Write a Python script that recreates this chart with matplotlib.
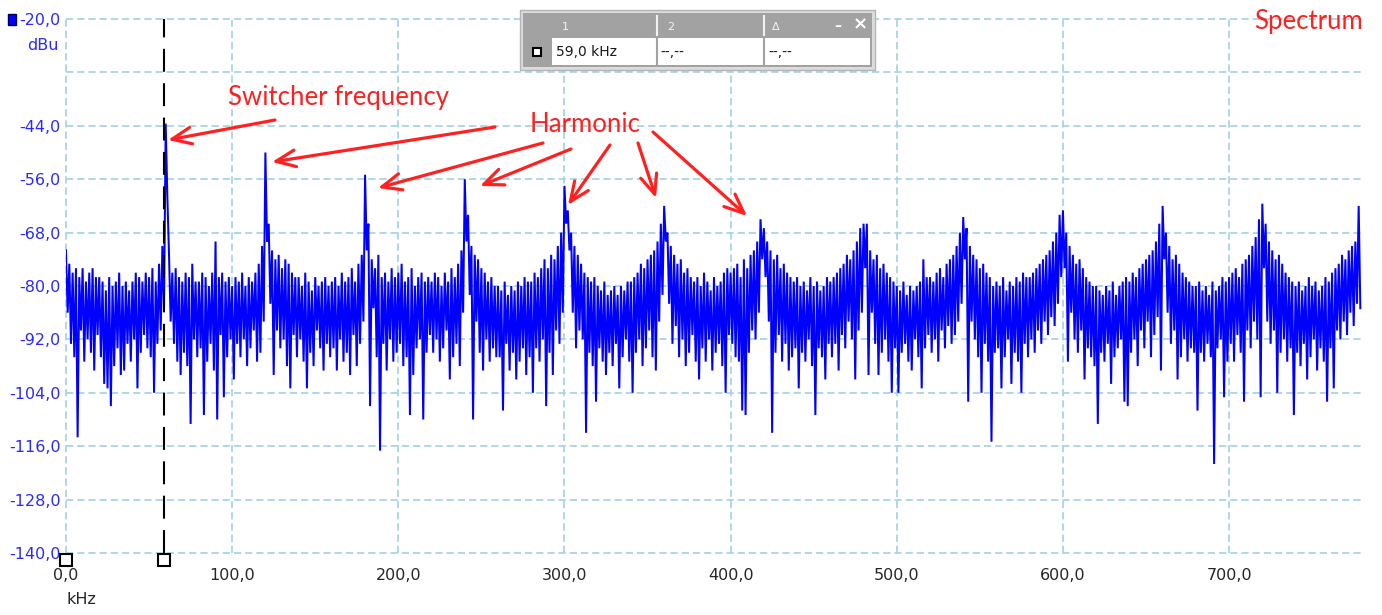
import numpy as np
import matplotlib
matplotlib.use("Agg")
import matplotlib.pyplot as plt
from matplotlib.patches import Rectangle, FancyArrowPatch
from matplotlib.lines import Line2D
from matplotlib import transforms

# ---------------- data ----------------
# spectrum displayed as per-2-kHz-bin maxima (at even kHz) and minima (at odd kHz), dBu
bin_start_khz = np.arange(0, 780, 2)
bin_max_dbu = [
    -72, -75, -77, -76, -78, -76, -79, -77, -76, -78,      # 0-18
    -78, -79, -81, -78, -80, -79, -77, -80, -79, -81,      # 20-38
    -79, -77, -78, -79, -77, -78, -76, -79, -75, -71,      # 40-58
    -43.5, -73, -77, -76, -78, -79, -77, -78, -75, -79,    # 60-78
    -79, -77, -78, -80, -77, -70, -78, -77, -79, -78,      # 80-98
    -80, -78, -79, -77, -80, -78, -79, -77, -75, -71,      # 100-118
    -50, -66, -72, -74, -73, -76, -74, -75, -77, -78,      # 120-138
    -78, -80, -77, -79, -81, -78, -80, -79, -78, -80,      # 140-158
    -79, -78, -80, -77, -79, -78, -76, -79, -75, -73,      # 160-178
    -55, -66, -74, -76, -73, -78, -77, -79, -76, -78,      # 180-198
    -77, -75, -79, -78, -76, -80, -78, -77, -79, -78,      # 200-218
    -79, -77, -78, -80, -77, -79, -76, -78, -75, -72,      # 220-238
    -56, -64, -71, -73, -74, -76, -77, -79, -78, -80,      # 240-258
    -80, -81, -79, -82, -80, -81, -79, -80, -78, -79,      # 260-278
    -79, -77, -78, -76, -74, -76, -73, -74, -71, -68,      # 280-298
    -57.5, -63, -68, -71, -73, -75, -77, -78, -79, -78,    # 300-318
    -80, -81, -79, -82, -81, -80, -82, -80, -81, -79,      # 320-338
    -79, -78, -77, -75, -76, -74, -73, -72, -70, -66,      # 340-358
    -62, -68, -71, -73, -75, -74, -77, -76, -78, -79,      # 360-378
    -78, -80, -77, -79, -81, -78, -80, -79, -77, -76,      # 380-398
    -77, -76, -75, -78, -74, -76, -73, -72, -70, -65,      # 400-418
    -67, -70, -72, -74, -73, -76, -75, -77, -78, -79,      # 420-438
    -78, -80, -79, -81, -78, -80, -79, -81, -80, -78,      # 440-458
    -79, -78, -77, -76, -75, -73, -74, -72, -70, -67,      # 460-478
    -66, -66, -72, -74, -73, -76, -75, -77, -78, -79,      # 480-498
    -80, -81, -79, -82, -80, -81, -80, -79, -74, -78,      # 500-518
    -78, -79, -77, -76, -78, -75, -74, -73, -71, -68,      # 520-538
    -64.5, -67, -71, -73, -74, -76, -75, -77, -78, -80,    # 540-558
    -79, -80, -78, -81, -79, -80, -78, -79, -77, -78,      # 560-578
    -78, -77, -76, -75, -74, -73, -72, -70, -68, -64,      # 580-598
    -63, -68, -71, -73, -75, -74, -76, -78, -79, -80,      # 600-618
    -80, -81, -82, -80, -81, -79, -82, -80, -79, -78,      # 620-638
    -79, -77, -78, -76, -75, -74, -73, -72, -70, -66,      # 640-658
    -62, -68, -71, -74, -73, -75, -77, -78, -79, -80,      # 660-678
    -80, -79, -81, -80, -82, -79, -81, -80, -78, -79,      # 680-698
    -78, -77, -76, -78, -75, -74, -73, -71, -69, -65,      # 700-718
    -61.5, -66, -70, -72, -74, -73, -75, -77, -78, -79,    # 720-738
    -80, -79, -81, -80, -78, -80, -79, -81, -80, -78,      # 740-758
    -79, -77, -76, -75, -73, -74, -72, -71, -70, -62,      # 760-778
]
bin_min_dbu = [
    -86, -93, -96, -114, -90, -97, -92, -95, -99, -91,      # 1-19
    -96, -102, -103, -107, -98, -94, -100, -99, -93, -97,   # 21-39
    -92, -103, -95, -91, -94, -96, -104, -93, -90, -85,     # 41-59
    -60, -88, -93, -97, -100, -95, -98, -111, -92, -96,     # 61-79
    -94, -109, -97, -93, -99, -110, -91, -105, -96, -92,    # 81-99
    -101, -93, -96, -92, -98, -94, -90, -97, -95, -88,      # 101-119
    -70, -84, -100, -90, -94, -92, -98, -103, -91, -96,     # 121-139
    -92, -97, -103, -95, -98, -90, -94, -99, -93, -96,      # 141-159
    -94, -99, -92, -97, -95, -100, -91, -98, -93, -88,      # 161-179
    -72, -107, -85, -96, -117, -93, -99, -92, -97, -95,     # 181-199
    -93, -98, -96, -109, -100, -94, -92, -110, -95, -91,    # 201-219
    -95, -92, -97, -94, -90, -101, -96, -93, -98, -86,      # 221-239
    -70, -82, -110, -88, -95, -99, -92, -97, -94, -96,      # 241-259
    -96, -108, -93, -99, -95, -101, -97, -94, -100, -96,    # 261-279
    -104, -94, -97, -92, -107, -95, -100, -90, -93, -86,    # 281-299
    -66, -72, -86, -94, -90, -92, -113, -95, -98, -106,     # 301-319
    -94, -97, -100, -95, -98, -93, -103, -96, -92, -97,     # 321-339
    -104, -95, -92, -98, -94, -90, -96, -99, -88, -82,      # 341-359
    -70, -84, -93, -89, -96, -92, -98, -95, -91, -97,       # 361-379
    -101, -94, -97, -92, -99, -95, -93, -98, -104, -91,     # 381-399
    -93, -96, -97, -108, -109, -95, -90, -92, -86, -74,     # 401-419
    -78, -88, -113, -95, -91, -97, -93, -99, -96, -94,      # 421-439
    -103, -95, -97, -92, -98, -109, -94, -96, -101, -93,    # 441-459
    -96, -93, -99, -91, -94, -88, -92, -101, -90, -86,      # 461-479
    -76, -100, -86, -93, -100, -95, -92, -97, -104, -94,    # 481-499
    -104, -95, -93, -97, -99, -92, -96, -103, -94, -91,     # 501-519
    -95, -92, -97, -90, -94, -89, -93, -91, -88, -84,       # 521-539
    -74, -106, -88, -92, -96, -104, -93, -97, -115, -95,    # 541-559
    -94, -103, -96, -92, -102, -95, -97, -104, -93, -96,    # 561-579
    -92, -95, -90, -93, -88, -91, -87, -89, -84, -78,       # 581-599
    -76, -97, -86, -92, -95, -90, -101, -94, -96, -98,      # 601-619
    -111, -95, -97, -93, -102, -96, -94, -92, -106, -107,   # 621-639
    -95, -92, -98, -90, -94, -88, -96, -91, -87, -99,       # 641-659
    -74, -86, -93, -90, -101, -96, -92, -97, -94, -95,      # 661-679
    -108, -95, -97, -93, -96, -120, -94, -92, -105, -97,    # 681-699
    -93, -97, -91, -95, -106, -90, -94, -88, -92, -105,     # 701-719
    -76, -88, -93, -90, -104, -95, -92, -97, -94, -109,     # 721-739
    -95, -98, -93, -101, -96, -92, -99, -94, -97, -106,     # 741-759
    -94, -103, -90, -92, -88, -91, -86, -89, -84, -85,      # 761-779
]

x_ticks = [0, 100, 200, 300, 400, 500, 600, 700]
x_tick_labels = ["0,0", "100,0", "200,0", "300,0", "400,0", "500,0", "600,0", "700,0"]
y_ticks = [-140, -128, -116, -104, -92, -80, -68, -56, -44, -32, -20]
y_tick_labels = ["-140,0", "-128,0", "-116,0", "-104,0", "-92,0", "-80,0",
                 "-68,0", "-56,0", "-44,0", "", "-20,0"]
cursor_khz = 59.0
cursor_marker_khz = [0.0, 59.0]
cursor_readout = ["59,0 kHz", "--,--", "--,--"]

# ---------------- figure ----------------
W, H = 1382, 615
fig = plt.figure(figsize=(W / 100, H / 100), dpi=100)
fig.patch.set_facecolor("white")

def fx(px):
    return px / W

def fy(py):
    return 1 - py / H

ax = fig.add_axes([fx(66), 62 / H, 1296 / W, 534 / H])
ax.set_xlim(0, 780)
ax.set_ylim(-140, -20)
ax.set_facecolor("white")
for s in ax.spines.values():
    s.set_visible(False)

grid_kw = dict(color="#a8d5e4", lw=1.3, linestyle=(0, (4.0, 2.2)), clip_on=False, zorder=1)
for xv in x_ticks:
    ax.axvline(xv, **grid_kw)
for yv in y_ticks:
    ax.axhline(yv, **grid_kw)

ax.set_xticks(x_ticks)
ax.set_xticklabels(x_tick_labels)
ax.set_yticks(y_ticks)
ax.set_yticklabels(y_tick_labels)
ax.tick_params(axis="both", length=0, labelsize=11.5)
ax.tick_params(axis="y", pad=4, labelcolor="#2a2aff")
ax.tick_params(axis="x", pad=11, labelcolor="#262626")

# spectrum trace (max/min per bin interleaved)
freq = np.empty(2 * len(bin_start_khz))
level = np.empty(2 * len(bin_start_khz))
freq[0::2] = bin_start_khz
freq[1::2] = bin_start_khz + 1
level[0::2] = bin_max_dbu
level[1::2] = bin_min_dbu
ax.plot(freq, level, color="#0000ff", lw=1.45, zorder=3, solid_joinstyle="miter")

# cursor
ax.axvline(cursor_khz, color="black", lw=1.5, linestyle=(0, (11, 5.5)), zorder=4)
mk_tr = transforms.offset_copy(ax.transData, fig=fig, x=0, y=-7, units="dots")
ax.plot(cursor_marker_khz, [-140] * len(cursor_marker_khz), linestyle="none", marker="s",
        markersize=8, markerfacecolor="white", markeredgecolor="black", markeredgewidth=1.5,
        transform=mk_tr, clip_on=False, zorder=6)

# axis unit labels
fig.text(fx(59), fy(45), "dBu", ha="right", va="center", fontsize=11.5, color="#2a2aff")
fig.text(fx(67), fy(600), "kHz", ha="left", va="center", fontsize=11.5, color="#262626")
fig.patches.append(Rectangle((fx(8), fy(25)), 8 / W, 11 / H, transform=fig.transFigure,
                             facecolor="#0000ff", edgecolor="#000050", lw=1))

# cursor readout box
def rect(x0, y0, x1, y1, **kw):
    fig.patches.append(Rectangle((fx(x0), fy(y1)), (x1 - x0) / W, (y1 - y0) / H,
                                 transform=fig.transFigure, **kw))

rect(520, 10, 875, 70, facecolor="#dcdcdc", edgecolor="#b4b4b4", lw=1)
rect(523, 13, 872, 67, facecolor="#a2a2a2", edgecolor="none")
rect(552, 38, 870, 65, facecolor="white", edgecolor="none")
for sx in (657, 764):
    fig.add_artist(Line2D([fx(sx), fx(sx)], [fy(16), fy(35)], transform=fig.transFigure,
                          color="#f2f2f2", lw=1.5))
    fig.add_artist(Line2D([fx(sx), fx(sx)], [fy(38), fy(65)], transform=fig.transFigure,
                          color="#a2a2a2", lw=1.5))
for tx, t in ((562, "1"), (667, "2"), (772, "Δ")):
    fig.text(fx(tx), fy(27), t, ha="left", va="center", fontsize=8, color="#f4f4f4")
fig.text(fx(838), fy(26), "–", ha="center", va="center", fontsize=10, color="white", fontweight="bold")
fig.text(fx(860), fy(24), "×", ha="center", va="center", fontsize=13, color="white", fontweight="bold")
fig.add_artist(Line2D([fx(537)], [fy(52)], transform=fig.transFigure, marker="s", markersize=6,
                      markerfacecolor="white", markeredgecolor="black", markeredgewidth=1.5))
for tx, t in zip((556, 660, 768), cursor_readout):
    fig.text(fx(tx), fy(52), t, ha="left", va="center", fontsize=10, color="#1a1a1a")

# annotations
red = "#ff2020"
fig.text(fx(228), fy(97), "Switcher frequency", ha="left", va="center", fontsize=18.5,
         color=red, family=["Lato", "DejaVu Sans"])
fig.text(fx(530), fy(124), "Harmonic", ha="left", va="center", fontsize=18.5,
         color=red, family=["Lato", "DejaVu Sans"])
fig.text(fx(1363), fy(22), "Spectrum", ha="right", va="center", fontsize=18.5,
         color=red, family=["Lato", "DejaVu Sans"])

arrows = [((275, 120), (168, 140)),
          ((495, 127), (272, 162)),
          ((543, 143), (378, 188)),
          ((571, 149), (480, 186)),
          ((610, 145), (568, 205)),
          ((638, 143), (656, 198)),
          ((653, 132), (747, 216))]
for (x0, y0), (x1, y1) in arrows:
    fig.add_artist(FancyArrowPatch((fx(x0), fy(y0)), (fx(x1), fy(y1)), transform=fig.transFigure,
                                   arrowstyle="->,head_length=14,head_width=6",
                                   color=red, lw=2.3, shrinkA=0, shrinkB=0, zorder=10))

fig.savefig("out.png", dpi=100)
